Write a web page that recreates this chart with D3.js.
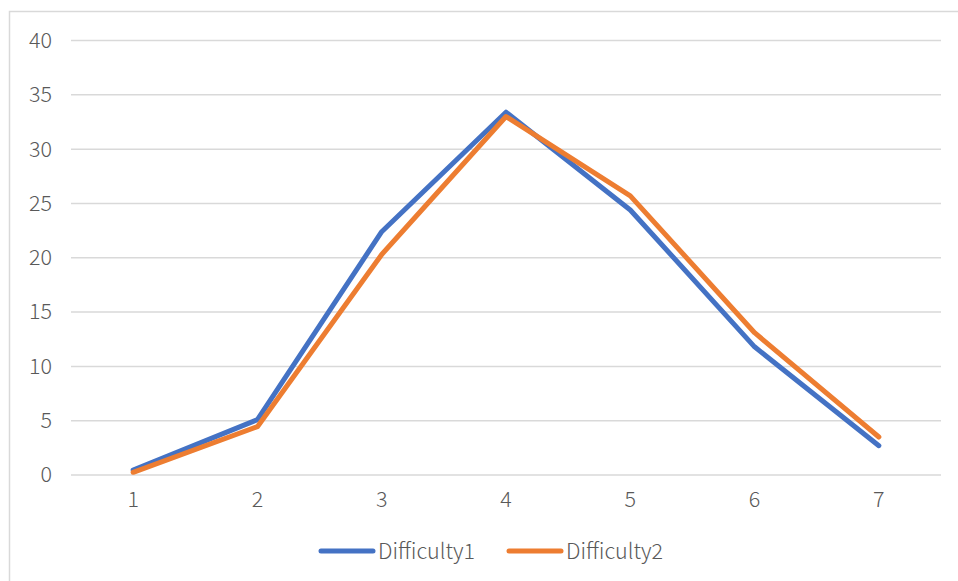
<!DOCTYPE html>
<html>
<head>
<meta charset="utf-8">
<script src="https://cdn.jsdelivr.net/npm/d3@7/dist/d3.min.js"></script>
<style>
  html, body { margin: 0; padding: 0; background: #fff; }
  svg { display: block; }
  text { font-family: "Noto Sans CJK SC", "Noto Sans", sans-serif; font-weight: 300; fill: #595959; }
</style>
</head>
<body>
<svg id="chart" width="958" height="581"></svg>
<script>
// Categories along the x axis
const categories = ["1", "2", "3", "4", "5", "6", "7"];
// Series values
const difficulty1 = [0.45, 5.1, 22.4, 33.4, 24.4, 11.8, 2.7];
const difficulty2 = [0.25, 4.45, 20.3, 33.0, 25.7, 13.1, 3.5];
const seriesNames = ["Difficulty1", "Difficulty2"];
const seriesColors = ["#4472C4", "#ED7D31"];
// Value axis ticks
const yTicks = [0, 5, 10, 15, 20, 25, 30, 35, 40];

const svg = d3.select("#chart");
const W = 958, H = 581;
const FONT = '"Noto Sans CJK SC", "Noto Sans", sans-serif';
const FS = 21.5;

// Chart area frame (open on the right and bottom edges)
svg.append("path")
  .attr("d", `M9.5,${H} V11.5 H${W}`)
  .attr("fill", "none")
  .attr("stroke", "#d9d9d9")
  .attr("stroke-width", 1.5);

const plot = { left: 71, right: 941, top: 40.5, bottom: 475 };

const x = d3.scaleBand().domain(categories).range([plot.left, plot.right]);
const y = d3.scaleLinear().domain([0, 40]).range([plot.bottom, plot.top]);

// Horizontal gridlines
svg.append("g")
  .selectAll("line")
  .data(yTicks)
  .join("line")
  .attr("x1", plot.left).attr("x2", plot.right)
  .attr("y1", d => y(d)).attr("y2", d => y(d))
  .attr("stroke", "#d9d9d9")
  .attr("stroke-width", 1.5);

// Y axis labels
const yAxis = d3.axisLeft(y).tickValues(yTicks).tickSize(0).tickPadding(0);
const gy = svg.append("g").attr("transform", "translate(52,0)").call(yAxis);
gy.select(".domain").remove();
gy.selectAll("text")
  .attr("font-size", FS)
  .attr("fill", "#595959")
  .style("font-family", FONT)
  .style("font-weight", 300);

// X axis labels
const xAxis = d3.axisBottom(x).tickSize(0).tickPadding(0);
const gx = svg.append("g").attr("transform", "translate(0,492)").call(xAxis);
gx.select(".domain").remove();
gx.selectAll("text")
  .attr("font-size", FS)
  .attr("fill", "#595959")
  .style("font-family", FONT)
  .style("font-weight", 300);

// Series lines
const cx = c => x(c) + x.bandwidth() / 2;
const line = d3.line()
  .x((d, i) => cx(categories[i]))
  .y(d => y(d));

[difficulty1, difficulty2].forEach((vals, k) => {
  svg.append("path")
    .datum(vals)
    .attr("d", line)
    .attr("fill", "none")
    .attr("stroke", seriesColors[k])
    .attr("stroke-width", 5)
    .attr("stroke-linejoin", "round")
    .attr("stroke-linecap", "round");
});

// Legend
const legendItems = [{ x: 321 }, { x: 509 }];
const lg = svg.append("g");
seriesNames.forEach((name, k) => {
  const lx = legendItems[k].x;
  lg.append("line")
    .attr("x1", lx).attr("x2", lx + 52)
    .attr("y1", 551).attr("y2", 551)
    .attr("stroke", seriesColors[k])
    .attr("stroke-width", 5)
    .attr("stroke-linecap", "round");
  lg.append("text")
    .attr("x", lx + 57)
    .attr("y", 551)
    .attr("dy", "0.35em")
    .attr("font-size", FS)
    .text(name);
});
</script>
</body>
</html>
